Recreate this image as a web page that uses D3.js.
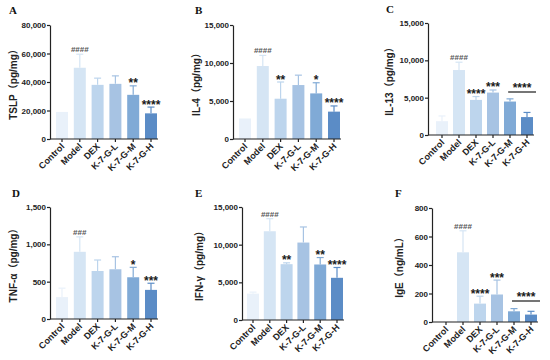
<!DOCTYPE html>
<html><head><meta charset="utf-8">
<script src="https://cdn.jsdelivr.net/npm/d3@7"></script>
<style>
body{margin:0;background:#fff;}
svg text{font-family:"Liberation Sans",Arial,"Noto Sans CJK SC",sans-serif;}
</style></head>
<body><svg id="c" width="550" height="360"></svg>
<script>
const categories = ["Control","Model","DEX","K-7-G-L","K-7-G-M","K-7-G-H"];
const colors = ["#e9f1fa","#d5e5f4","#bdd5ed","#a7c3e3","#80aad6","#5b8cc6"];

const tslpMean = [19000, 50000, 38000, 38700, 31000, 18000];
const tslpErr  = [0, 9500, 4700, 5600, 6300, 4400];
const il4Mean  = [2700, 9600, 5300, 7100, 6000, 3600];
const il4Err   = [0, 1400, 2200, 1300, 1400, 750];
const il13Mean = [1850, 8700, 4700, 5680, 4480, 2400];
const il13Err  = [700, 1050, 450, 350, 360, 620];
const tnfMean  = [293, 900, 643, 666, 559, 390];
const tnfErr   = [120, 200, 147, 168, 133, 89];
const ifnMean  = [3500, 11780, 7410, 10280, 7370, 5600];
const ifnErr   = [200, 1670, 180, 2070, 920, 1370];
const igeMean  = [2, 489, 129, 193, 75, 52];
const igeErr   = [0, 151, 52, 101, 19, 23];

const tslpTicks = [0,20000,40000,60000,80000];
const il4Ticks  = [0,5000,10000,15000];
const il13Ticks = [0,5000,10000,15000];
const tnfTicks  = [0,500,1000,1500];
const ifnTicks  = [0,5000,10000,15000];
const igeTicks  = [0,200,400,600,800];

const tslpMarks = [[1,"####"],[4,"**"],[5,"****"]];
const il4Marks  = [[1,"####"],[2,"**"],[4,"*"],[5,"****"]];
const il13Marks = [[1,"####"],[2,"****"],[3,"***"]];
const tnfMarks  = [[1,"###"],[4,"*"],[5,"***"]];
const ifnMarks  = [[1,"####"],[2,"**"],[4,"**"],[5,"****"]];
const igeMarks  = [[1,"####"],[2,"****"],[3,"***"]];

const panels = [
 {letter:"A", label:"TSLP（pg/mg）", mean:tslpMean, err:tslpErr, ticks:tslpTicks, marks:tslpMarks,
  ax:50, y0:139, y1:25, c0:62, c1:151, lx:13, lettX:9, lettY:14},
 {letter:"B", label:"IL-4（pg/mg）", mean:il4Mean, err:il4Err, ticks:il4Ticks, marks:il4Marks,
  ax:233, y0:139, y1:25, c0:245, c1:334, lx:196, lettX:195, lettY:14},
 {letter:"C", label:"IL-13（pg/mg）", mean:il13Mean, err:il13Err, ticks:il13Ticks, marks:il13Marks,
  ax:428, y0:135, y1:23, c0:442, c1:527, lx:389, lettX:386, lettY:13, bracket:92},
 {letter:"D", label:"TNF-α（pg/mg）", mean:tnfMean, err:tnfErr, ticks:tnfTicks, marks:tnfMarks,
  ax:50, y0:319, y1:207, c0:62, c1:151, lx:13, lettX:12, lettY:197},
 {letter:"E", label:"IFN-γ（pg/mg）", mean:ifnMean, err:ifnErr, ticks:ifnTicks, marks:ifnMarks,
  ax:242, y0:320, y1:207, c0:253, c1:337, lx:199, lettX:195, lettY:197},
 {letter:"F", label:"IgE（ng/mL）", mean:igeMean, err:igeErr, ticks:igeTicks, marks:igeMarks,
  ax:432, y0:322, y1:208, c0:446, c1:531, lx:399, lettX:395, lettY:197, bracket:301}
];

const svg = d3.select("#c");
const fmt = d3.format(",");
const ink = "#222";

panels.forEach(p => {
  const g = svg.append("g");
  const maxT = p.ticks[p.ticks.length-1];
  const y = d3.scaleLinear().domain([0, maxT]).range([p.y0, p.y1]);
  const x = d3.scalePoint().domain(categories).range([p.c0, p.c1]);
  const bw = 12;
  const xEnd = p.c1 + bw/2 + 1;

  categories.forEach((c,i) => {
    const cx = x(c);
    const top = y(p.mean[i]);
    g.append("rect").attr("x", cx-bw/2).attr("y", top).attr("width", bw)
     .attr("height", p.y0 - top).attr("fill", colors[i]);
    if (p.err[i] > 0) {
      const et = y(p.mean[i] + p.err[i]);
      g.append("line").attr("x1",cx).attr("x2",cx).attr("y1",top).attr("y2",et)
       .attr("stroke",colors[i]).attr("stroke-width",1.2);
      g.append("line").attr("x1",cx-3.5).attr("x2",cx+3.5).attr("y1",et).attr("y2",et)
       .attr("stroke",colors[i]).attr("stroke-width",1.2);
    }
  });

  const ya = g.append("g").attr("transform", `translate(${p.ax},0)`)
    .call(d3.axisLeft(y).tickValues(p.ticks).tickFormat(fmt).tickSize(3).tickSizeOuter(0));
  ya.select(".domain").attr("stroke", ink).attr("stroke-width",1.2);
  ya.selectAll(".tick line").attr("stroke", ink).attr("stroke-width",1.2);
  ya.selectAll(".tick text").attr("fill", ink).attr("font-size",8).attr("font-weight","bold").attr("x",-4);

  g.append("line").attr("x1", p.ax).attr("x2", xEnd).attr("y1", p.y0).attr("y2", p.y0)
   .attr("stroke", ink).attr("stroke-width",1.2);
  categories.forEach(c => {
    g.append("line").attr("x1", x(c)).attr("x2", x(c)).attr("y1", p.y0).attr("y2", p.y0+3)
     .attr("stroke", ink).attr("stroke-width",1.2);
    g.append("text").attr("transform", `translate(${x(c)+3},${p.y0+8}) rotate(-45)`)
     .attr("text-anchor","end").attr("font-size",9).attr("font-weight","bold").attr("fill",ink)
     .text(c);
  });

  g.append("text").attr("transform", `translate(${p.lx},${(p.y0+p.y1)/2}) rotate(-90)`)
   .attr("text-anchor","middle").attr("dy","0.35em").attr("font-size",10).attr("font-weight","bold")
   .attr("fill",ink).text(p.label);

  g.append("text").attr("x", p.lettX).attr("y", p.lettY).attr("font-size",11)
   .attr("font-weight","bold").style("font-family","'Liberation Serif','Times New Roman',serif")
   .attr("fill","#111").text(p.letter);

  p.marks.forEach(([i, t]) => {
    const et = y(p.mean[i] + p.err[i]);
    const isHash = t[0] === "#";
    g.append("text").attr("x", x(categories[i])).attr("y", isHash ? et-2 : et+1.5)
     .attr("text-anchor","middle").attr("font-size", isHash ? 8 : 12).attr("font-weight","bold")
     .attr("fill", isHash ? "#555" : "#1a1a1a").text(t);
  });

  if (p.bracket !== undefined) {
    const xa = x(categories[4]) - 2, xb = x(categories[5]) + 9;
    g.append("line").attr("x1", xa).attr("x2", xb).attr("y1", p.bracket).attr("y2", p.bracket)
     .attr("stroke", "#1a1a1a").attr("stroke-width",1.2);
    g.append("text").attr("x", (xa+xb)/2).attr("y", p.bracket).attr("text-anchor","middle")
     .attr("font-size",12).attr("font-weight","bold").attr("fill","#1a1a1a").text("****");
  }
});
</script></body></html>
